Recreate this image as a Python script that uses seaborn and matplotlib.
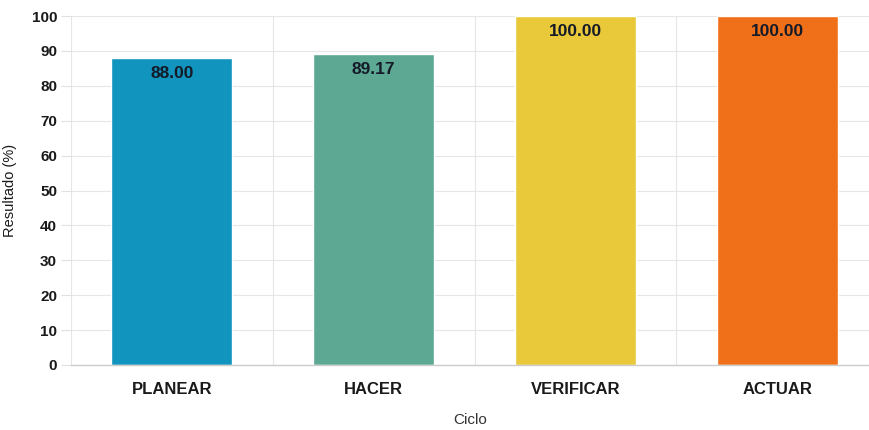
import matplotlib
matplotlib.use("Agg")
import matplotlib.pyplot as plt
import seaborn as sns
import pandas as pd

# Datos del gráfico
ciclos = ["PLANEAR", "HACER", "VERIFICAR", "ACTUAR"]
resultados = [88.00, 89.17, 100.00, 100.00]
colores = ["#1194be", "#5da893", "#e9c93a", "#f07019"]

sns.set_theme(style="white")
plt.rcParams['font.family'] = ['Liberation Sans', 'DejaVu Sans']

df = pd.DataFrame({"Ciclo": ciclos, "Resultado": resultados})

fig = plt.figure(figsize=(8.69, 4.30), dpi=100)
ax = fig.add_axes([71 / 869, 1 - 365 / 430, 1 - 71 / 869, (365 - 16) / 430])

sns.barplot(data=df, x="Ciclo", y="Resultado", hue="Ciclo", palette=colores,
            width=0.6, legend=False, ax=ax, saturation=1)

for i, v in enumerate(resultados):
    ax.annotate(f"{v:.2f}", (i, v), xytext=(0, -11), textcoords="offset points",
                ha="center", va="center", fontsize=12.5, fontweight="bold", color="#151a28")

ax.set_yticks(range(0, 101, 10))
ax.set_xticks(range(len(ciclos)))
ax.set_xticks([i + 0.5 for i in range(-1, len(ciclos))], minor=True)
ax.set_ylim(0, 100)
ax.set_xlim(-0.5, -0.5 + 798 / 201.8)

ax.grid(True, axis="y", color="#e6e6e6", linewidth=0.8)
ax.grid(True, axis="x", which="minor", color="#e6e6e6", linewidth=0.8)
ax.set_axisbelow(True)

for s in ["top", "right", "left"]:
    ax.spines[s].set_visible(False)
ax.spines["bottom"].set_color("#cccccc")
ax.spines["bottom"].set_linewidth(1.0)

ax.tick_params(axis="x", which="major", length=0, pad=12, labelsize=12)
ax.tick_params(axis="x", which="minor", length=8, color="#e0e0e0", width=0.8, direction="out")
ax.tick_params(axis="y", length=7, color="#e0e0e0", width=0.8, pad=3, labelsize=11, left=True)
for lbl in ax.get_xticklabels() + ax.get_yticklabels():
    lbl.set_fontweight("bold")
    lbl.set_color("#1a1a1a")

ax.set_xlabel("Ciclo", fontsize=11, color="#333333", labelpad=12)
ax.set_ylabel("Resultado (%)", fontsize=10.5, color="#1a1a1a")
ax.yaxis.set_label_coords(-0.068, 0.5)

fig.savefig("out.png", dpi=100)
